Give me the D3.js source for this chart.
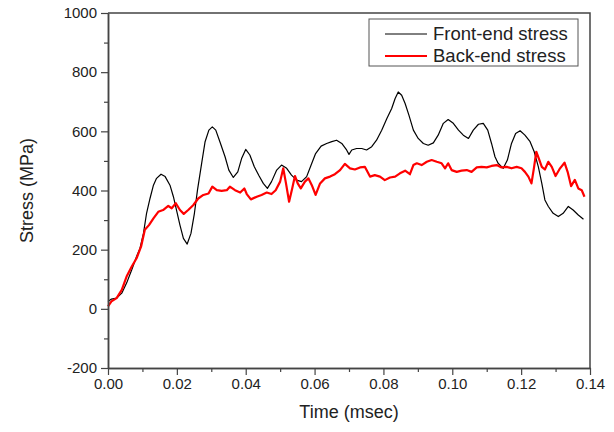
<!DOCTYPE html>
<html>
<head>
<meta charset="utf-8">
<script src="https://cdn.jsdelivr.net/npm/d3@7"></script>
<style>
  body { margin: 0; background: #fff; }
  svg text { font-family: Arial, "Liberation Sans", sans-serif; fill: #222; }
</style>
</head>
<body>
<div id="chart"></div>
<script>
/* CONSTANTS */
const width = 614,
  height = 432,
  margin = { top: 13, right: 24, bottom: 64, left: 108 };

/* DATA */
const frontTime = [0, 0.001, 0.0025, 0.004, 0.0054, 0.0069, 0.0083, 0.0093, 0.0103, 0.0112,
  0.0122, 0.0132, 0.0141, 0.0154, 0.0166, 0.018, 0.019, 0.0199, 0.0209, 0.0219,
  0.023, 0.0241, 0.0251, 0.026, 0.0272, 0.0282, 0.0293, 0.0303, 0.0313, 0.0325,
  0.034, 0.0351, 0.0364, 0.0377, 0.0388, 0.04, 0.0412, 0.0425, 0.0439, 0.0451,
  0.0463, 0.0475, 0.049, 0.0504, 0.0519, 0.0533, 0.0548, 0.0562, 0.0577, 0.059,
  0.0603, 0.0619, 0.0635, 0.065, 0.0664, 0.0679, 0.0693, 0.07, 0.0708, 0.0722,
  0.0737, 0.0751, 0.0766, 0.078, 0.0795, 0.081, 0.0824, 0.0834, 0.0843, 0.0853,
  0.0863, 0.0874, 0.0887, 0.0901, 0.0916, 0.093, 0.0945, 0.0959, 0.0974, 0.0988,
  0.1003, 0.1018, 0.1032, 0.1047, 0.1061, 0.1076, 0.109, 0.1103, 0.1114, 0.1124,
  0.1133, 0.1148, 0.116, 0.1172, 0.1184, 0.1197, 0.1211, 0.1226, 0.1238, 0.125,
  0.126, 0.1269, 0.1279, 0.1293, 0.1308, 0.1322, 0.1337, 0.1351, 0.1366, 0.1381];
const frontStress = [25, 33, 36, 53, 87, 132, 177, 205, 255, 323,
  373, 418, 441, 455, 447, 418, 379, 334, 283, 238,
  219, 255, 323, 402, 492, 565, 604, 615, 604, 565,
  514, 469, 444, 463, 508, 539, 520, 480, 449, 424,
  407, 430, 469, 486, 475, 452, 435, 430, 447, 486,
  525, 550, 559, 565, 570, 559, 537, 522, 537, 542,
  542, 537, 548, 570, 604, 643, 677, 711, 733, 722,
  694, 655, 604, 576, 559, 553, 561, 587, 627, 640,
  627, 604, 587, 576, 604, 624, 627, 604, 559, 514,
  492, 475, 503, 559, 593, 602, 587, 565, 531, 480,
  424, 368, 346, 323, 312, 323, 346, 334, 317, 303];

const backTime = [0, 0.001, 0.0025, 0.004, 0.0054, 0.0069, 0.0083, 0.0096, 0.0107, 0.0119,
  0.0132, 0.0146, 0.016, 0.0175, 0.0185, 0.0197, 0.0209, 0.022, 0.0233, 0.0248,
  0.0262, 0.0277, 0.0292, 0.0303, 0.0316, 0.033, 0.0345, 0.0354, 0.0369, 0.0384,
  0.0396, 0.0403, 0.0415, 0.0432, 0.0446, 0.0461, 0.0475, 0.0487, 0.05, 0.0509,
  0.0517, 0.0526, 0.0535, 0.0543, 0.0551, 0.056, 0.0572, 0.0582, 0.0592, 0.0603,
  0.0616, 0.063, 0.0645, 0.0659, 0.0674, 0.0688, 0.0703, 0.0717, 0.0732, 0.0746,
  0.0761, 0.0775, 0.079, 0.0804, 0.0819, 0.0834, 0.0848, 0.0863, 0.0877, 0.0887,
  0.0897, 0.0911, 0.0926, 0.094, 0.0955, 0.0969, 0.0979, 0.0988, 0.0998, 0.1013,
  0.1027, 0.1042, 0.1056, 0.1071, 0.1085, 0.11, 0.1114, 0.1129, 0.1143, 0.1158,
  0.1172, 0.1187, 0.1201, 0.1211, 0.1221, 0.123, 0.1237, 0.1244, 0.1252, 0.126,
  0.1269, 0.1279, 0.1289, 0.13, 0.1313, 0.1326, 0.1335, 0.1345, 0.1356, 0.1366,
  0.1376, 0.1384];
const backStress = [8, 25, 36, 64, 109, 143, 171, 210, 267, 283,
  306, 328, 334, 348, 340, 357, 334, 321, 334, 351,
  373, 385, 390, 413, 401, 399, 401, 413, 401, 393,
  407, 388, 370, 379, 385, 393, 388, 401, 430, 475,
  424, 362, 407, 449, 424, 407, 430, 441, 418, 385,
  424, 441, 447, 455, 469, 490, 475, 471, 478, 480,
  447, 452, 447, 435, 444, 447, 458, 467, 455, 486,
  492, 486, 497, 503, 497, 492, 475, 492, 469, 463,
  467, 469, 463, 478, 480, 478, 483, 486, 478, 480,
  475, 480, 475, 463, 447, 424, 475, 531, 506, 480,
  471, 497, 480, 449, 475, 494, 463, 415, 436, 407,
  401, 379];

const xTicks = [0, 0.02, 0.04, 0.06, 0.08, 0.10, 0.12, 0.14];
const xMinor = [0.01, 0.03, 0.05, 0.07, 0.09, 0.11, 0.13];
const yTicks = [-200, 0, 200, 400, 600, 800, 1000];
const yMinor = [-100, 100, 300, 500, 700, 900];

const seriesNames = ["Front-end stress", "Back-end stress"];
const seriesColors = ["#000", "#ff0000"];

/* SVG */
const svg = d3.select("#chart")
  .append("svg")
  .attr("width", width)
  .attr("height", height);

// scales
const xScale = d3.scaleLinear()
  .domain([0, 0.14])
  .range([margin.left, width - margin.right]);

const yScale = d3.scaleLinear()
  .domain([-200, 1000])
  .range([height - margin.bottom, margin.top]);

// lines
const line = d3.line()
  .x(d => xScale(d[0]))
  .y(d => yScale(d[1]));

const front = frontTime.map((t, i) => [t, frontStress[i]]);
const back = backTime.map((t, i) => [t, backStress[i]]);

svg.append("path")
  .datum(front)
  .attr("fill", "none")
  .attr("stroke", seriesColors[0])
  .attr("stroke-width", 1.2)
  .attr("stroke-linejoin", "round")
  .attr("d", line);

svg.append("path")
  .datum(back)
  .attr("fill", "none")
  .attr("stroke", seriesColors[1])
  .attr("stroke-width", 2.2)
  .attr("stroke-linejoin", "round")
  .attr("d", line);

// frame (top and right)
const x0 = xScale(0), x1 = xScale(0.14), y0 = yScale(-200), y1 = yScale(1000);
svg.append("path")
  .attr("d", `M${x0},${y1}H${x1}V${y0}`)
  .attr("fill", "none")
  .attr("stroke", "#444")
  .attr("stroke-width", 1.5);

// axes
svg.append("g")
  .attr("class", "x-axis")
  .attr("transform", `translate(0,${y0})`)
  .call(d3.axisBottom(xScale).tickValues(xTicks).tickFormat(d => d.toFixed(2))
    .tickSizeInner(7).tickSizeOuter(0).tickPadding(3));

svg.append("g")
  .attr("transform", `translate(0,${y0})`)
  .call(d3.axisBottom(xScale).tickValues(xMinor).tickFormat("").tickSizeInner(4).tickSizeOuter(0));

svg.append("g")
  .attr("class", "y-axis")
  .attr("transform", `translate(${x0},0)`)
  .call(d3.axisLeft(yScale).tickValues(yTicks).tickFormat(d => String(d))
    .tickSizeInner(7).tickSizeOuter(0).tickPadding(4));

svg.append("g")
  .attr("transform", `translate(${x0},0)`)
  .call(d3.axisLeft(yScale).tickValues(yMinor).tickFormat("").tickSizeInner(4).tickSizeOuter(0));

svg.selectAll(".domain").attr("stroke", "#444").attr("stroke-width", 1.5);
svg.selectAll(".tick line").attr("stroke", "#444").attr("stroke-width", 1.2);
svg.selectAll(".tick text").style("font-size", "15px").attr("fill", "#222");

// axis titles
svg.append("text")
  .attr("x", (x0 + x1) / 2)
  .attr("y", 418)
  .attr("text-anchor", "middle")
  .style("font-size", "18px")
  .text("Time (msec)");

svg.append("text")
  .attr("transform", `translate(33,${(y0 + y1) / 2}) rotate(-90)`)
  .attr("text-anchor", "middle")
  .style("font-size", "18px")
  .text("Stress (MPa)");

// legend
const legend = svg.append("g").attr("transform", "translate(369,19)");
legend.append("rect")
  .attr("width", 209)
  .attr("height", 47)
  .attr("fill", "#fff")
  .attr("stroke", "#555")
  .attr("stroke-width", 1);

seriesNames.forEach((name, i) => {
  const yy = 15 + i * 22;
  legend.append("line")
    .attr("x1", 16).attr("x2", 58)
    .attr("y1", yy).attr("y2", yy)
    .attr("stroke", seriesColors[i])
    .attr("stroke-width", i === 0 ? 1 : 2);
  legend.append("text")
    .attr("x", 64)
    .attr("y", yy + 6)
    .style("font-size", "18.5px")
    .text(name);
});
</script>
</body>
</html>
